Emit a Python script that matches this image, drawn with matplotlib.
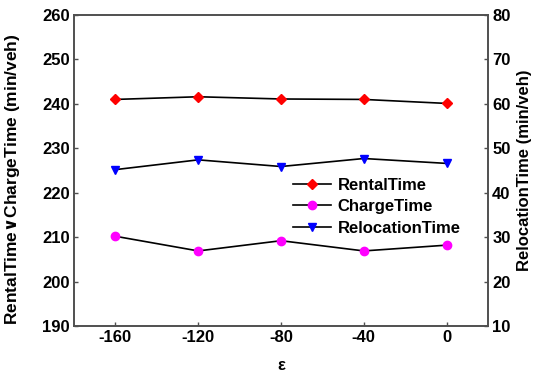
import matplotlib.pyplot as plt
import numpy as np

plt.rcParams['font.family'] = ['Liberation Sans', 'DejaVu Sans']
plt.rcParams['font.weight'] = 'bold'
plt.rcParams['axes.labelweight'] = 'bold'

eps = [-160, -120, -80, -40, 0]
rental_time = [241.0, 241.6, 241.1, 241.0, 240.1]
charge_time = [210.2, 206.9, 209.2, 206.9, 208.2]
relocation_time = [45.2, 47.4, 45.9, 47.7, 46.6]

fig = plt.figure(figsize=(5.39, 3.83), dpi=100)
ax = fig.add_axes([0.1373, 0.1488, 0.7681, 0.812])
ax2 = ax.twinx()

l1, = ax.plot(eps, rental_time, color='black', lw=1.2, marker='D', ms=5,
              mfc='red', mec='red', label='RentalTime')
l2, = ax.plot(eps, charge_time, color='black', lw=1.2, marker='o', ms=6,
              mfc='magenta', mec='magenta', label='ChargeTime')
l3, = ax2.plot(eps, relocation_time, color='black', lw=1.2, marker='v', ms=6,
               mfc='blue', mec='blue', label='RelocationTime')

ax.set_xlim(-180, 20)
ax.set_ylim(190, 260)
ax2.set_ylim(10, 80)
ax.set_xticks(eps)
ax.set_xticklabels(['-160', '-120', '-80', '-40', '0'])
ax.set_yticks(np.arange(190, 261, 10))
ax2.set_yticks(np.arange(10, 81, 10))

for a in (ax, ax2):
    for s in a.spines.values():
        s.set_color('#505050')
        s.set_linewidth(1.2)
    a.tick_params(direction='in', length=3, width=1, color='#505050',
                  labelsize=12, pad=3)

ax.set_xlabel('ε', fontsize=12, labelpad=9)
ax.set_ylabel('RentalTime$\\vee$ChargeTime (min/veh)', fontsize=12.5)
ax.yaxis.set_label_coords(-0.125, 0.473)
ax2.set_ylabel('RelocationTime (min/veh)', fontsize=12, labelpad=5)

ax.legend(handles=[l1, l2, l3], loc='upper left', bbox_to_anchor=(0.50, 0.515),
          frameon=False, fontsize=12, handlelength=2.3, borderpad=0.2,
          labelspacing=0.4, handletextpad=0.4)

fig.savefig('out.png', dpi=100)
